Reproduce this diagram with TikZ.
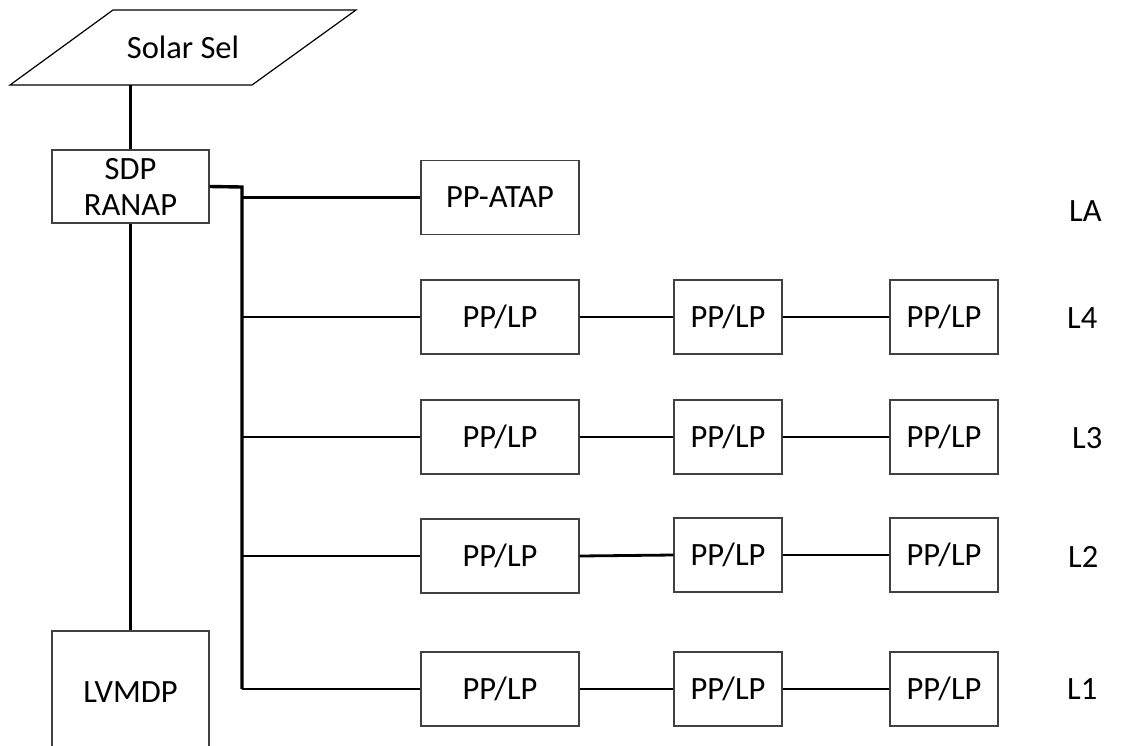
\documentclass[tikz,border=0pt]{standalone}
\usepackage{fontspec}
\setmainfont{Carlito}
\begin{document}
\begin{tikzpicture}[x=1pt,y=-1pt,
  every node/.style={font=\fontsize{32.5}{36}\selectfont, inner sep=0pt},
  box/.style={draw=black!75, line width=1.3pt, rectangle, align=center},
  wide/.style={box, minimum width=158pt, minimum height=74pt},
  narrow/.style={box, minimum width=108pt, minimum height=74pt},
  trunk/.style={line width=3.4pt, black, line join=miter},
  link/.style={line width=2.8pt, black},
  feed/.style={line width=2.2pt, black},
  tag/.style={anchor=west}]
\useasboundingbox (0,0) rectangle (1130,745);

% supply: parallelogram with its caption
\draw[line width=1.2pt] (113,10) -- (356,10) -- (252,85) -- (10,85) -- cycle;
\node (solar) at (183,47) {Solar Sel};
\coordinate (solarbot) at (130.5,85);

% main panels
\node[box, minimum width=157pt, minimum height=73pt] (sdp) at (130.5,186.5) {SDP\\RANAP};
\node[box, minimum width=157pt, minimum height=124pt] (lvmdp) at (130.5,693) {};
\node at (130.5,692) {LVMDP};

\draw[feed] (solarbot) -- (sdp.north);
\draw[feed] (sdp.south) -- (lvmdp.north);

% branch panels
\node[wide] (atap) at (500,197.5) {PP-ATAP};

\node[wide]   (a1) at (500,317) {PP/LP};
\node[narrow] (a2) at (728,317) {PP/LP};
\node[narrow] (a3) at (944,317) {PP/LP};

\node[wide]   (b1) at (500,437) {PP/LP};
\node[narrow] (b2) at (728,437) {PP/LP};
\node[narrow] (b3) at (944,437) {PP/LP};

\node[wide]   (c1) at (500,556) {PP/LP};
\node[narrow] (c2) at (728,555) {PP/LP};
\node[narrow] (c3) at (944,555) {PP/LP};

\node[wide]   (d1) at (500,689) {PP/LP};
\node[narrow] (d2) at (728,689) {PP/LP};
\node[narrow] (d3) at (944,689) {PP/LP};

% line labels
\node[tag] (tLA) at (1069,211) {LA};
\node[tag] (tL4) at (1067,318) {L4};
\node[tag] (tL3) at (1072,438) {L3};
\node[tag] (tL2) at (1068,557) {L2};
\node[tag] (tL1) at (1067,689) {L1};

% distribution trunk
\coordinate (bus) at (242,187);
\draw[trunk] (sdp.east) -- (bus) -- (bus |- d1.west);
\draw[link] (bus |- atap.west) -- (atap.west);
\draw[link] (bus |- a1.west) -- (a1.west);
\draw[link] (bus |- b1.west) -- (b1.west);
\draw[link] (bus |- c1.west) -- (c1.west);
\draw[link] (bus |- d1.west) -- (d1.west);

% chained panels on each line
\draw[link] (a1.east) -- (a2.west);  \draw[link] (a2.east) -- (a3.west);
\draw[link] (b1.east) -- (b2.west);  \draw[link] (b2.east) -- (b3.west);
\draw[link] (c1.east) -- (c2.west);  \draw[link] (c2.east) -- (c3.west);
\draw[link] (d1.east) -- (d2.west);  \draw[link] (d2.east) -- (d3.west);
\end{tikzpicture}
\end{document}
